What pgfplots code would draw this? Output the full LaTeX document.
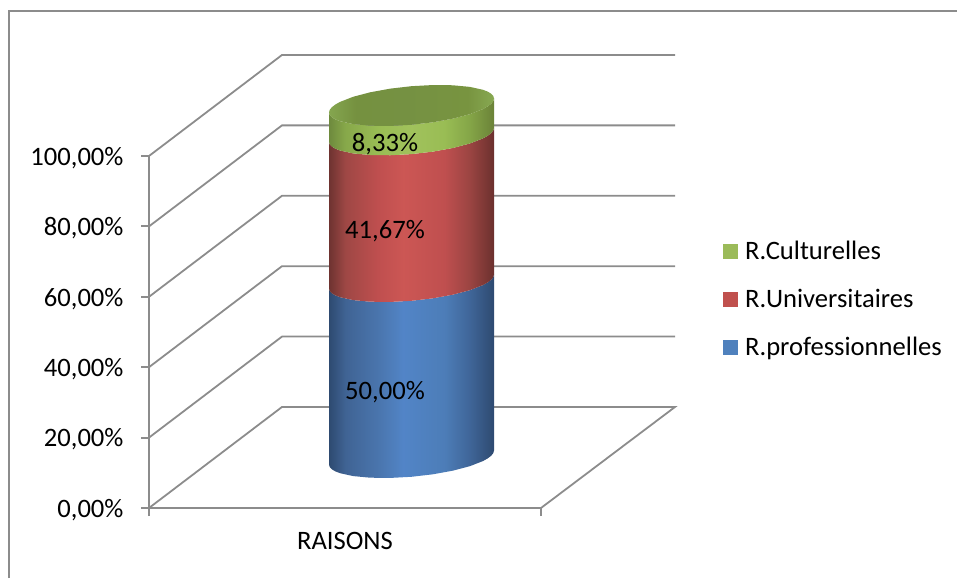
\documentclass[border=0pt]{standalone}
\usepackage{pgfplots}
\pgfplotsset{compat=1.18}
\usepackage{pgfplotstable}
\usepackage{fontspec}
\setmainfont{Carlito}

% stacked shares, bottom to top
\def\rprof{50.00}
\def\runiv{41.67}
\def\rcult{8.33}
% vertical position of the cylinder foot on the front scale
\def\foot{14.35}

\definecolor{axisgray}{HTML}{8C8C8C}
\definecolor{legblue}{HTML}{4F81BD}
\definecolor{legred}{HTML}{C0504D}
\definecolor{leggreen}{HTML}{9BBB59}

\pgfdeclarehorizontalshading{cylblue}{100bp}{
  rgb(0bp)=(0.18,0.29,0.44); rgb(25bp)=(0.18,0.29,0.44);
  rgb(30bp)=(0.25,0.39,0.58); rgb(40bp)=(0.29,0.46,0.68);
  rgb(47.5bp)=(0.32,0.52,0.78); rgb(60bp)=(0.30,0.49,0.72);
  rgb(67.5bp)=(0.25,0.40,0.60); rgb(75bp)=(0.18,0.29,0.44);
  rgb(100bp)=(0.18,0.29,0.44)}
\pgfdeclarehorizontalshading{cylred}{100bp}{
  rgb(0bp)=(0.43,0.20,0.19); rgb(25bp)=(0.43,0.20,0.19);
  rgb(30bp)=(0.62,0.28,0.27); rgb(40bp)=(0.75,0.31,0.31);
  rgb(47.5bp)=(0.80,0.34,0.33); rgb(60bp)=(0.75,0.31,0.31);
  rgb(67.5bp)=(0.61,0.27,0.26); rgb(75bp)=(0.42,0.19,0.18);
  rgb(100bp)=(0.42,0.19,0.18)}
\pgfdeclarehorizontalshading{cylgreen}{100bp}{
  rgb(0bp)=(0.43,0.54,0.24); rgb(25bp)=(0.43,0.54,0.24);
  rgb(30bp)=(0.53,0.66,0.29); rgb(40bp)=(0.60,0.74,0.33);
  rgb(50bp)=(0.63,0.76,0.36); rgb(60bp)=(0.60,0.74,0.33);
  rgb(67.5bp)=(0.52,0.65,0.28); rgb(75bp)=(0.42,0.51,0.22);
  rgb(100bp)=(0.42,0.51,0.22)}
\pgfdeclarehorizontalshading{cyllid}{100bp}{
  rgb(0bp)=(0.52,0.65,0.31); rgb(25bp)=(0.52,0.65,0.31);
  rgb(33bp)=(0.46,0.57,0.25); rgb(50bp)=(0.46,0.57,0.26);
  rgb(67bp)=(0.47,0.58,0.25); rgb(75bp)=(0.53,0.66,0.32);
  rgb(100bp)=(0.53,0.66,0.32)}

% band outline: lower front rim left to right (k=0), upper front rim right to left (k=1)
\pgfplotstableread{
x      dy      k
329.00 -1.989  0
329.71 -2.688  0
331.81 -3.340  0
335.28 -3.936  0
340.05 -4.464  0
353.16 -5.283  0
370.25 -5.743  0
390.15 -5.811  0
411.50 -5.483  0
432.85 -4.781  0
452.75 -3.753  0
469.84 -2.471  0
482.95 -1.020  0
487.72 -0.260  0
491.19  0.502  0
493.29  1.256  0
494.00  1.989  0
494.00  1.989  1
493.29  1.256  1
491.19  0.502  1
487.72 -0.260  1
482.95 -1.020  1
469.84 -2.471  1
452.75 -3.753  1
432.85 -4.781  1
411.50 -5.483  1
390.15 -5.811  1
370.25 -5.743  1
353.16 -5.283  1
340.05 -4.464  1
335.28 -3.936  1
331.81 -3.340  1
329.71 -2.688  1
329.00 -1.989  1
}\bandoutline

% full rim, closing the lid
\pgfplotstableread{
x      dy
329.00 -1.989
329.71 -2.688
331.81 -3.340
335.28 -3.936
340.05 -4.464
353.16 -5.283
370.25 -5.743
390.15 -5.811
411.50 -5.483
432.85 -4.781
452.75 -3.753
469.84 -2.471
482.95 -1.020
487.72 -0.260
491.19  0.502
493.29  1.256
494.00  1.989
493.29  2.688
491.19  3.340
487.72  3.936
482.95  4.464
469.84  5.283
452.75  5.743
432.85  5.811
411.50  5.483
390.15  4.781
370.25  3.753
353.16  2.471
340.05  1.020
335.28  0.260
331.81 -0.502
329.71 -1.256
}\lidoutline

\begin{document}
\begin{tikzpicture}[x=1pt,y=1pt]
\begin{axis}[
  name=main,
  scale only axis,
  width=392pt, height=352pt,
  xmin=149, xmax=541, ymin=0, ymax=100,
  clip=false,
  axis x line=bottom, axis y line=left,
  axis line style={-, color=axisgray, line width=1.8pt},
  tick style={color=axisgray, line width=1.8pt},
  tick align=outside,
  major tick length=8pt,
  font=\fontsize{26.6}{31}\selectfont,
  ytick={0,20,40,60,80,100},
  yticklabels={0{,}00\%,20{,}00\%,40{,}00\%,60{,}00\%,80{,}00\%,100{,}00\%},
  yticklabel style={xshift=-14pt, yshift=-2pt},
  xtick={149,541},
  xticklabels={,},
  extra x ticks={345},
  extra x tick labels={RAISONS},
  extra x tick style={major tick length=0pt, xticklabel style={yshift=-21pt}},
  unbounded coords=jump,
  legend cell align=left,
  legend style={
    at={(axis cs:723,76.3)}, anchor=north west,
    draw=none, fill=none, inner sep=0pt, outer sep=0pt,
    row sep=24pt,
    font=\fontsize{26.6}{31}\selectfont,
  },
  legend image code/.code={\fill[#1, draw=none] (0pt,-7.5pt) rectangle (15pt,7.5pt);},
]
  % outer frame, cut by the page on the right and at the bottom
  \addplot[forget plot, color=axisgray, line width=1.8pt] coordinates
    {(9,-19.89) (9,141.3) (957,141.3)};

  % floor and back wall
  \addplot[forget plot, color=axisgray, line width=1.8pt] coordinates {
    (541,0) (675,28.7) (282,28.7) (149,0) (nan,nan)
    (149,20)  (282,48.7)  (675,48.7)  (nan,nan)
    (149,40)  (282,68.7)  (675,68.7)  (nan,nan)
    (149,60)  (282,88.7)  (675,88.7)  (nan,nan)
    (149,80)  (282,108.7) (675,108.7) (nan,nan)
    (149,100) (282,128.7) (675,128.7)
  };

  % cylinder bands
  \addplot[forget plot, draw=none, shade, shading=cylblue]
    table[x=x, y expr=\thisrow{dy}+\foot+\thisrow{k}*\rprof] {\bandoutline} -- cycle;
  \addplot[forget plot, draw=none, shade, shading=cylred]
    table[x=x, y expr=\thisrow{dy}+\foot+\rprof+\thisrow{k}*\runiv] {\bandoutline} -- cycle;
  \addplot[forget plot, draw=none, shade, shading=cylgreen]
    table[x=x, y expr=\thisrow{dy}+\foot+\rprof+\runiv+\thisrow{k}*\rcult] {\bandoutline} -- cycle;
  \addplot[forget plot, draw=none, shade, shading=cyllid]
    table[x=x, y expr=\thisrow{dy}+\foot+\rprof+\runiv+\rcult] {\lidoutline} -- cycle;

  % share labels inside the bands
  \node at (axis cs:385,{\foot+\rprof/2-6.4}) {50,00\%};
  \node at (axis cs:385,{\foot+\rprof+\runiv/2-6.4}) {41,67\%};
  \node at (axis cs:385,{\foot+\rprof+\runiv+\rcult/2-6.8}) {8,33\%};

  \addlegendimage{fill=leggreen}
  \addlegendentry{\hspace*{5pt}R.Culturelles}
  \addlegendimage{fill=legred}
  \addlegendentry{\hspace*{5pt}R.Universitaires}
  \addlegendimage{fill=legblue}
  \addlegendentry{\hspace*{5pt}R.professionnelles}
\end{axis}
\pgfresetboundingbox
\path (main.south west) ++(-149pt,-70pt) rectangle ++(957pt,578pt);
\end{tikzpicture}
\end{document}
